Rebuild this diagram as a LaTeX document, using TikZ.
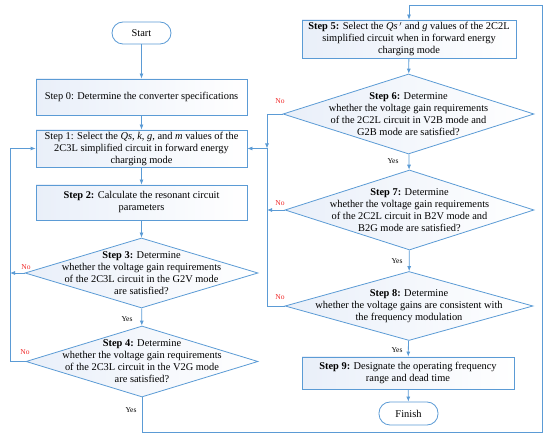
\documentclass[tikz,border=0pt]{standalone}
\usepackage{fontspec}
\setmainfont{Liberation Serif}
\usetikzlibrary{arrows.meta,shapes.geometric}
\definecolor{lineblue}{RGB}{91,155,213}
\definecolor{fillblue}{RGB}{233,239,249}
\definecolor{nored}{RGB}{240,40,40}
\begin{document}
\begin{tikzpicture}[x=1pt,y=-1pt,
  font=\fontsize{10.4}{12}\selectfont,
  every path/.style={line width=0.8pt},
  arr/.style={draw=lineblue,-{Latex[length=5pt,width=4pt]}},
  ln/.style={draw=lineblue},
  stepbox/.style={draw=lineblue,rectangle,left color=fillblue,right color=white,minimum width=211pt,inner sep=1pt,align=center},
  term/.style={draw=lineblue,fill=white,rectangle,rounded corners=11pt,minimum width=59pt,minimum height=22pt,inner sep=0pt},
  dia/.style={draw=lineblue,diamond,left color=fillblue,right color=white,inner sep=0pt},
  dtext/.style={align=center,inner sep=0pt},
  nolab/.style={text=nored,font=\fontsize{7.5}{8}\selectfont},
  yeslab/.style={font=\fontsize{7.5}{8}\selectfont}]
\useasboundingbox (0,0) rectangle (550,438);

% left column
\node[term] (start) at (141.5,33) {Start};
\node[stepbox,minimum height=36pt] (s0) at (141.5,97) {Step 0: Determine the converter specifications};
\node[stepbox,minimum height=37pt] (s1) at (141.5,148.5) {Step 1: Select the \textit{Qs}, \textit{k}, \textit{g}, and \textit{m} values of the\\2C3L simplified circuit in forward energy\\charging mode};
\node[stepbox,minimum height=35pt] (s2) at (141.5,202.5) {\textbf{Step 2:} Calculate the resonant circuit\\parameters};
\node[dia,minimum width=233pt,minimum height=70pt] (s3) at (141.5,273) {};
\node[dtext] (s3t) at (s3.center) {\textbf{Step 3:} Determine\\whether the voltage gain requirements\\of the 2C3L circuit in the G2V mode\\are satisfied?};
\node[dia,minimum width=232pt,minimum height=71pt] (s4) at (142,361.5) {};
\node[dtext] (s4t) at (s4.center) {\textbf{Step 4:} Determine\\whether the voltage gain requirements\\of the 2C3L circuit in the V2G mode\\are satisfied?};

% right column
\node[stepbox,minimum width=214pt,minimum height=38pt] (s5) at (409,39) {\textbf{Step 5:} Select the \textit{Qs}\,\textit{$'$} and \textit{g} values of the 2C2L\\simplified circuit when in forward energy\\charging mode};
\node[dia,minimum width=251pt,minimum height=80pt] (s6) at (408.5,114) {};
\node[dtext] (s6t) at (s6.center) {\textbf{Step 6:} Determine\\whether the voltage gain requirements\\of the 2C2L circuit in V2B mode and\\G2B mode are satisfied?};
\node[dia,minimum width=249pt,minimum height=80pt] (s7) at (409.5,210) {};
\node[dtext] (s7t) at (s7.center) {\textbf{Step 7:} Determine\\whether the voltage gain requirements\\of the 2C2L circuit in B2V mode and\\B2G mode are satisfied?};
\node[dia,minimum width=248pt,minimum height=69pt] (s8) at (409,306) {};
\node[dtext] (s8t) at (s8.center) {\textbf{Step 8:} Determine\\whether the voltage gains are consistent with\\the frequency modulation};
\node[stepbox,minimum width=212pt,minimum height=32pt] (s9) at (408,373) {\textbf{Step 9:} Designate the operating frequency\\range and dead time};
\node[term,minimum height=23pt] (fin) at (408.5,413.5) {Finish};

% coordinates
\coordinate (L) at (10,148.5);
\coordinate (M) at (267,148.5);
\coordinate (B) at (542,432);
\coordinate (T) at (409,5);

% left connectors
\draw[arr] (start) -- (s0);
\draw[arr] (s0) -- (s1);
\draw[arr] (s1) -- (s2);
\draw[arr] (s2) -- (s3);
\draw[arr] (s3) -- (s4);
\draw[arr] (s3.west) -- (s3.west -| L);
\draw[arr] (s4.west) -| (L) -- (s1.west);
\draw[ln] (s4.south) |- (B) |- (T);
\draw[arr] (T) -- (s5.north);

% right connectors
\draw[arr] (s5) -- (s6);
\draw[arr] (s6) -- (s7);
\draw[arr] (s7) -- (s8);
\draw[arr] (s8) -- (s9);
\draw[arr] (s9) -- (fin);
\draw[arr] (s6.west) -| (M);
\draw[arr] (s7.west) -- (s7.west -| M);
\draw[arr] (s8.west) -| (M) -- (s1.east);

% labels
\node[nolab] (n3) at (26,267) {No};
\node[nolab] (n4) at (25,352) {No};
\node[nolab] (n6) at (280,101) {No};
\node[nolab] (n7) at (280,203) {No};
\node[nolab] (n8) at (280,297) {No};
\node[yeslab] (y3) at (127,319) {Yes};
\node[yeslab] (y4) at (131,410) {Yes};
\node[yeslab] (y6) at (393,161) {Yes};
\node[yeslab] (y7) at (397,261) {Yes};
\node[yeslab] (y8) at (397,350) {Yes};
\end{tikzpicture}
\end{document}
